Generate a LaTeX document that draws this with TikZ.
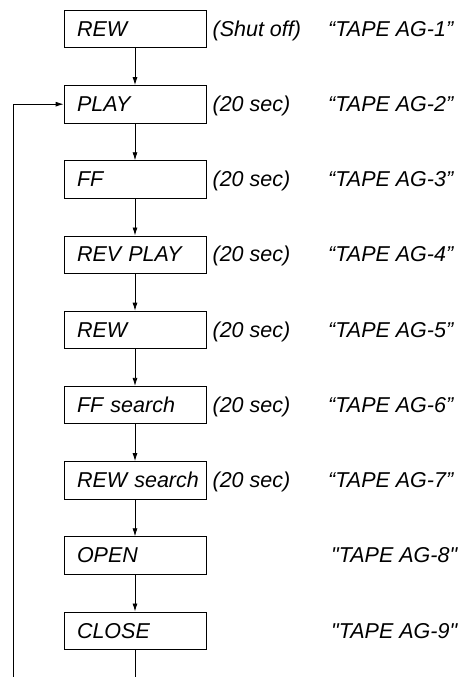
\documentclass[tikz,border=0pt]{standalone}
\usepackage{fontspec}
\newfontfamily\labelfont{Liberation Sans}
\usepackage{tikz}
\usetikzlibrary{positioning,arrows.meta}

\begin{document}
\begin{tikzpicture}[
  node distance=37pt,
  every node/.style={font=\labelfont\fontsize{21.5}{25}\selectfont\itshape},
  stepbox/.style={draw, line width=0.8pt, minimum width=142pt, minimum height=37.4pt, text width=130pt, inner xsep=6pt, align=left, execute at begin node=\hspace*{7pt}},
  cond/.style={anchor=base west, inner sep=0pt},
  tape/.style={anchor=base west, inner sep=0pt},
  arr/.style={-{Latex[length=8pt,width=5pt]}, line width=0.8pt},
  line/.style={line width=0.8pt}
]
\useasboundingbox (0,0) rectangle (461pt,-677pt);
\node[stepbox] at (135pt,-29pt) (rew) {REW};
\node[stepbox, below=of rew] (play) {PLAY};
\node[stepbox, below=of play] (ff) {FF};
\node[stepbox, below=of ff] (revplay) {REV PLAY};
\node[stepbox, below=of revplay] (rewb) {REW};
\node[stepbox, below=of rewb] (ffsearch) {FF search};
\node[stepbox, below=of ffsearch] (rewsearch) {REW search};
\node[stepbox, below=of rewsearch] (open) {OPEN};
\node[stepbox, below=of open] (close) {CLOSE};

\node[cond] at ([xshift=6pt]rew.base east) (rewtime) {(Shut off)};
\node[cond] at ([xshift=6pt]play.base east) (playtime) {(20 sec)};
\node[cond] at ([xshift=6pt]ff.base east) (fftime) {(20 sec)};
\node[cond] at ([xshift=6pt]revplay.base east) (revplaytime) {(20 sec)};
\node[cond] at ([xshift=6pt]rewb.base east) (rewbtime) {(20 sec)};
\node[cond] at ([xshift=6pt]ffsearch.base east) (ffsearchtime) {(20 sec)};
\node[cond] at ([xshift=6pt]rewsearch.base east) (rewsearchtime) {(20 sec)};

\node[tape] at ([xshift=193pt]rew.base) (tape1) {“TAPE AG-1”};
\node[tape] at ([xshift=193pt]play.base) (tape2) {“TAPE AG-2”};
\node[tape] at ([xshift=193pt]ff.base) (tape3) {“TAPE AG-3”};
\node[tape] at ([xshift=193pt]revplay.base) (tape4) {“TAPE AG-4”};
\node[tape] at ([xshift=193pt]rewb.base) (tape5) {“TAPE AG-5”};
\node[tape] at ([xshift=193pt]ffsearch.base) (tape6) {“TAPE AG-6”};
\node[tape] at ([xshift=193pt]rewsearch.base) (tape7) {“TAPE AG-7”};
\node[tape] at ([xshift=196pt]open.base) (tape8) {"TAPE AG-8"};
\node[tape] at ([xshift=196pt]close.base) (tape9) {"TAPE AG-9"};

\draw[arr] (rew) -- (play);
\draw[arr] (play) -- (ff);
\draw[arr] (ff) -- (revplay);
\draw[arr] (revplay) -- (rewb);
\draw[arr] (rewb) -- (ffsearch);
\draw[arr] (ffsearch) -- (rewsearch);
\draw[arr] (rewsearch) -- (open);
\draw[arr] (open) -- (close);

\coordinate (loopfoot) at (13pt,-677pt);
\coordinate (closefoot) at (close.south |- loopfoot);
\draw[line] (close) -- (closefoot);
\draw[arr] (loopfoot) |- (play);
\end{tikzpicture}
\end{document}
